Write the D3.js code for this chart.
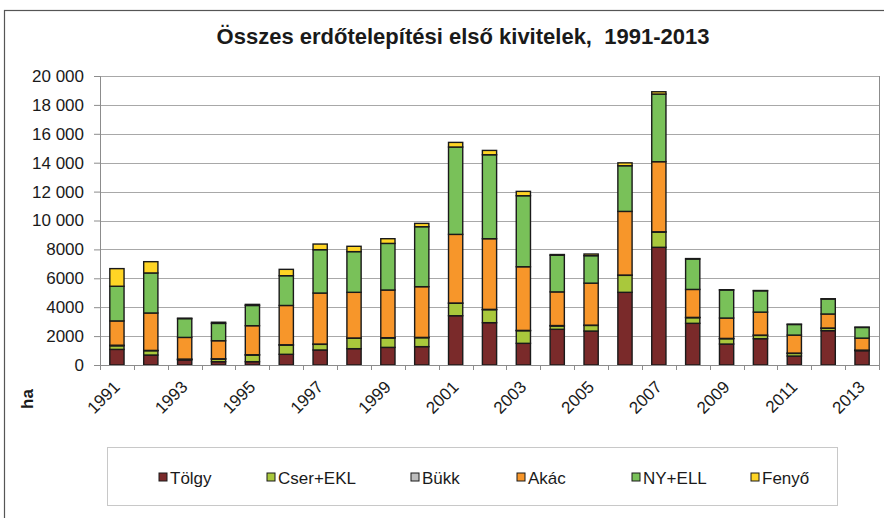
<!DOCTYPE html>
<html><head><meta charset="utf-8">
<script src="https://cdn.jsdelivr.net/npm/d3@7"></script>
<style>body{margin:0;background:#fff}svg{display:block;font-family:"Liberation Sans",Arial,sans-serif}</style>
</head><body><svg id="c" width="884" height="518"></svg>
<script>
const years = ["1991","1992","1993","1994","1995","1996","1997","1998","1999","2000","2001","2002","2003","2004","2005","2006","2007","2008","2009","2010","2011","2012","2013"];
const seriesNames = ["Tölgy","Cser+EKL","Bükk","Akác","NY+ELL","Fenyő"];
const seriesColors = ["#7a2a2a","#a9c83c","#bdbdbd","#f7962a","#79c159","#ffd525"];
const tolgy = [1080,690,350,230,230,740,1040,1130,1220,1270,3410,2930,1500,2470,2350,5030,8145,2885,1450,1820,620,2375,990];
const cser  = [250,300,40,180,460,640,390,720,650,620,860,900,875,230,390,1175,1055,390,370,230,185,165,30];
const bukk  = [40,20,20,20,20,20,20,20,20,20,20,20,20,30,20,20,20,20,20,20,20,20,10];
const akac  = [1680,2590,1500,1250,2010,2720,3530,3160,3300,3510,4750,4890,4405,2330,2905,4405,4850,1935,1410,1590,1245,970,830];
const nyell = [2400,2770,1300,1200,1400,2060,3000,2815,3225,4150,6045,5810,4915,2535,1900,3160,4680,2105,1940,1475,735,1035,740];
const fenyo = [1220,780,30,80,75,440,390,370,325,230,320,300,300,50,115,200,160,30,20,20,20,20,20];
const yTicks = [0,2000,4000,6000,8000,10000,12000,14000,16000,18000,20000];
const xLabelYears = ["1991","1993","1995","1997","1999","2001","2003","2005","2007","2009","2011","2013"];
const title = "Összes erdőtelepítési első kivitelek,  1991-2013";
const yUnit = "ha";

const svg = d3.select("#c");
const M = {left:100, right:879, top:76, bottom:365};

// outer frame
svg.append("rect").attr("x",4.5).attr("y",10.5).attr("width",900).attr("height",520)
  .attr("fill","#fff").attr("stroke","#555").attr("stroke-width",1.2);

const x = d3.scaleBand().domain(years).range([M.left, M.right]).paddingInner(0.58).paddingOuter(0.29);
const y = d3.scaleLinear().domain([0,20000]).range([M.bottom, M.top]);

// gridlines
svg.append("g").selectAll("line").data(yTicks.filter(d=>d>0)).join("line")
  .attr("x1",M.left).attr("x2",M.right).attr("y1",d=>Math.round(y(d))+0.5).attr("y2",d=>Math.round(y(d))+0.5)
  .attr("stroke","#a8a8a8").attr("stroke-width",1);
// right border
svg.append("line").attr("x1",M.right+0.5).attr("x2",M.right+0.5).attr("y1",M.top).attr("y2",M.bottom)
  .attr("stroke","#8c8c8c");

// stacked data
const table = years.map((yr,i)=>({year:yr, "Tölgy":tolgy[i], "Cser+EKL":cser[i], "Bükk":bukk[i], "Akác":akac[i], "NY+ELL":nyell[i], "Fenyő":fenyo[i]}));
const stack = d3.stack().keys(seriesNames)(table);
const color = d3.scaleOrdinal().domain(seriesNames).range(seriesColors);

svg.append("g").selectAll("g").data(stack).join("g").attr("fill",d=>color(d.key))
  .selectAll("rect").data(d=>d).join("rect")
  .attr("x",d=>x(d.data.year)).attr("width",x.bandwidth())
  .attr("y",d=>y(d[1])).attr("height",d=>Math.max(0,y(d[0])-y(d[1])))
  .attr("stroke","#1a1a1a").attr("stroke-width",1.4);

// y axis
const yAxis = d3.axisLeft(y).tickValues(yTicks).tickSize(6).tickPadding(10)
  .tickFormat(d=> d>=10000 ? d3.format(",")(d).replace(/,/g," ") : String(d));
const gy = svg.append("g").attr("transform",`translate(${M.left},0)`).call(yAxis);
gy.select(".domain").attr("stroke","#8c8c8c");
gy.selectAll(".tick line").attr("stroke","#8c8c8c");
gy.selectAll("text").attr("font-size",17).attr("fill","#1a1a1a").attr("font-family","Liberation Sans, Arial, sans-serif");

// x axis
const gx = svg.append("g").attr("transform",`translate(0,${M.bottom})`);
gx.append("line").attr("x1",M.left).attr("x2",M.right).attr("y1",0.5).attr("y2",0.5).attr("stroke","#8c8c8c");
gx.selectAll("line.tk").data(d3.range(years.length+1)).join("line").attr("class","tk")
  .attr("x1",i=>Math.round(M.left+i*(M.right-M.left)/years.length)+0.5)
  .attr("x2",i=>Math.round(M.left+i*(M.right-M.left)/years.length)+0.5)
  .attr("y1",0).attr("y2",5).attr("stroke","#8c8c8c");
gx.selectAll("text").data(xLabelYears).join("text")
  .attr("transform",d=>`translate(${x(d)+x.bandwidth()/2+4},23) rotate(-45)`)
  .attr("text-anchor","end").attr("font-size",17).attr("fill","#1a1a1a").text(d=>d);

// title
svg.append("text").attr("x",463).attr("y",44).attr("text-anchor","middle")
  .style("white-space","pre")
  .attr("font-size",22).attr("font-weight","bold").attr("fill","#1a1a1a").text(title);

// y unit
svg.append("text").attr("transform","translate(33,399) rotate(-90)").attr("text-anchor","middle")
  .attr("font-size",17).attr("font-weight","bold").attr("fill","#1a1a1a").text(yUnit);

// legend
svg.append("rect").attr("x",107.5).attr("y",447.5).attr("width",730).attr("height",58)
  .attr("fill","#fff").attr("stroke","#c8c8c8");
const legX = [159,267,411,517,632,751];
const lg = svg.append("g").selectAll("g").data(seriesNames).join("g")
  .attr("transform",(d,i)=>`translate(${legX[i]},478)`);
lg.append("rect").attr("x",0).attr("y",-5).attr("width",8).attr("height",8)
  .attr("fill",d=>color(d)).attr("stroke","#1a1a1a").attr("stroke-width",1);
lg.append("text").attr("x",11).attr("y",6).attr("font-size",17).attr("fill","#1a1a1a").text(d=>d);
</script></body></html>
